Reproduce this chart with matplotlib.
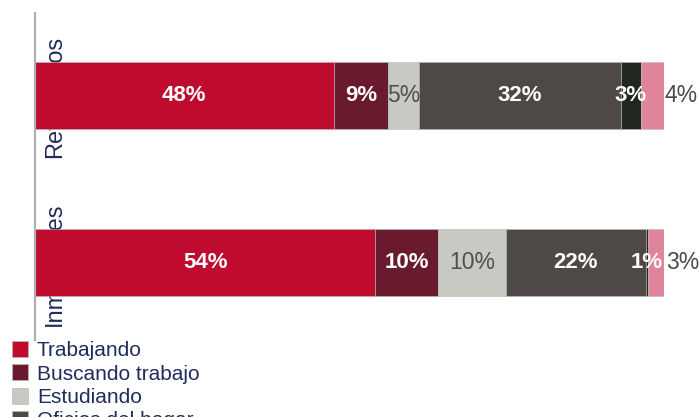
import matplotlib.pyplot as plt
from matplotlib.patches import Patch

plt.rcParams['font.family'] = ['Liberation Sans', 'DejaVu Sans']

# Data
categories = ['Inmigrantes', 'Retornados']
series_names = ['Trabajando', 'Buscando trabajo', 'Estudiando',
                'Oficios del hogar', 'Jubilado / pensionado', 'Otro']
# segment widths, listed per category
inmigrantes = [54.1, 10.0, 10.7, 22.3, 0.3, 2.9]
retornados = [47.5, 8.6, 4.9, 32.1, 3.2, 3.7]
# printed labels
inmigrantes_labels = ['54%', '10%', '10%', '22%', '1%', '3%']
retornados_labels = ['48%', '9%', '5%', '32%', '3%', '4%']

colors = ['#BE0B2E', '#6A1A2D', '#C9C9C4', '#4E4946', '#1F2720', '#E0849C']
label_colors = ['white', 'white', '#4F4F4F', 'white', 'white', '#4A4A4A']
label_bold = [True, True, False, True, True, False]
navy = '#1F2D5C'

values = [inmigrantes, retornados]
labels = [inmigrantes_labels, retornados_labels]

fig = plt.figure(figsize=(6.99, 4.17), dpi=100)
ax = fig.add_axes([0.05, 0.185, 0.9, 0.784])

ypos = [0, 1]
bar_h = 0.40
for row, y in enumerate(ypos):
    left = 0
    for j, v in enumerate(values[row]):
        ax.barh(y, v, left=left, height=bar_h, color=colors[j],
                edgecolor='#b8b8b8', linewidth=0.4, zorder=2)
        if j == len(values[row]) - 1:
            # last label sits outside the bar
            ax.text(left + v, y, labels[row][j], ha='left', va='center',
                    fontsize=16.5, color=label_colors[j], zorder=3)
        else:
            ax.text(left + v / 2, y, labels[row][j], ha='center', va='center',
                    fontsize=16 if label_bold[j] else 16.5, color=label_colors[j],
                    fontweight='bold' if label_bold[j] else 'normal', zorder=3)
        left += v

# category labels, rotated and partly hidden behind the bars
for y, name in zip(ypos, categories):
    ax.text(3.2, y - 0.01, name, rotation=90, ha='center', va='center',
            fontsize=17, color=navy, zorder=1)

ax.set_xlim(0, 100)
ax.set_ylim(-0.464, 1.494)
ax.set_xticks([])
ax.set_yticks([])
for side in ['top', 'right', 'bottom']:
    ax.spines[side].set_visible(False)
ax.spines['left'].set_color('#b0b0b0')
ax.spines['left'].set_linewidth(1.6)

handles = [Patch(facecolor=c, edgecolor='#b8b8b8', linewidth=0.5) for c in colors]
fig.legend(handles, series_names, loc='upper left', bbox_to_anchor=(0.005, 0.202),
           frameon=False, fontsize=15, handlelength=0.8, handleheight=0.8,
           handletextpad=0.4, labelspacing=0.2, borderaxespad=0.0,
           labelcolor=navy)

plt.savefig('out.png', dpi=100)
